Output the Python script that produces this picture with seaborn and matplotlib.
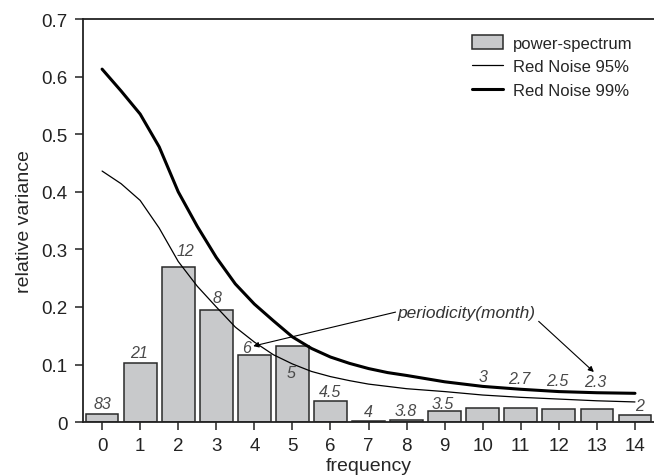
import numpy as np
import pandas as pd
import matplotlib
matplotlib.use("Agg")
import matplotlib.pyplot as plt
from matplotlib.patches import Patch
from matplotlib.lines import Line2D
import seaborn as sns

sns.set_style("ticks")
plt.rcParams['font.family'] = ['Liberation Sans', 'DejaVu Sans']

freq = list(range(15))
power = [0.014, 0.102, 0.269, 0.194, 0.116, 0.132, 0.036, 0.002, 0.003,
         0.019, 0.025, 0.025, 0.023, 0.022, 0.012]

curve_x = [0, 0.5, 1, 1.5, 2, 2.5, 3, 3.5, 4, 4.5, 5, 5.5, 6, 6.5, 7, 7.5, 8,
           9, 10, 11, 12, 13, 14]
red95 = [0.436, 0.414, 0.385, 0.337, 0.279, 0.236, 0.200, 0.165, 0.139, 0.117,
         0.101, 0.088, 0.079, 0.072, 0.066, 0.062, 0.058,
         0.053, 0.047, 0.043, 0.040, 0.037, 0.035]
red99 = [0.613, 0.575, 0.535, 0.478, 0.400, 0.340, 0.286, 0.240, 0.205, 0.176,
         0.148, 0.128, 0.113, 0.102, 0.093, 0.086, 0.081,
         0.070, 0.062, 0.057, 0.053, 0.051, 0.050]

period_labels = ["83", "21", "12", "8", "6", "5", "4.5", "4", "3.8", "3.5",
                 "3", "2.7", "2.5", "2.3", "2"]
label_x = [0.0, 0.97, 2.18, 3.03, 3.79, 4.97, 6.0, 7.0, 7.97, 8.95,
           10.0, 10.97, 11.97, 12.95, 14.13]
label_y = [0.033, 0.121, 0.298, 0.217, 0.130, 0.087, 0.054, 0.019, 0.021, 0.033,
           0.080, 0.075, 0.073, 0.070, 0.028]

bars_df = pd.DataFrame({"frequency": freq, "power": power})
curves_df = pd.DataFrame({"frequency": curve_x, "red95": red95, "red99": red99})

fig = plt.figure(figsize=(6.54, 4.77), dpi=100)
ax = fig.add_axes([0.127, 0.113, 0.873, 0.845])

sns.barplot(data=bars_df, x="frequency", y="power", ax=ax, width=0.86,
            color="#c8c9cb", edgecolor="#2a2a2a", linewidth=1.1, saturation=1)
sns.lineplot(data=curves_df, x="frequency", y="red95", ax=ax, color="black",
             linewidth=0.9)
sns.lineplot(data=curves_df, x="frequency", y="red99", ax=ax, color="black",
             linewidth=2.2)

for t, lx, ly in zip(period_labels, label_x, label_y):
    ax.text(lx, ly, t, ha="center", va="center", fontsize=11.5, style="italic",
            color="#4a4a4a")

ax.text(7.75, 0.190, "periodicity(month)", ha="left", va="center", fontsize=12.5,
        style="italic", color="#333333")
ax.annotate("", xy=(3.97, 0.132), xytext=(7.71, 0.191),
            arrowprops=dict(arrowstyle="-|>", color="black", lw=0.8,
                            mutation_scale=8, shrinkA=0, shrinkB=0))
ax.annotate("", xy=(12.92, 0.087), xytext=(11.47, 0.175),
            arrowprops=dict(arrowstyle="-|>", color="black", lw=0.8,
                            mutation_scale=8, shrinkA=0, shrinkB=0))

ax.set_xlim(-0.5, 14.5)
ax.set_ylim(0, 0.7)
ax.set_yticks([0, 0.1, 0.2, 0.3, 0.4, 0.5, 0.6, 0.7])
ax.set_yticklabels(["0", "0.1", "0.2", "0.3", "0.4", "0.5", "0.6", "0.7"])
ax.set_xlabel("frequency", fontsize=14, labelpad=2)
ax.set_ylabel("relative variance", fontsize=14, labelpad=6)
ax.tick_params(axis="both", labelsize=13.5, length=6, width=1.1, colors="#222222",
               direction="out", pad=5)
for s in ["left", "bottom", "top"]:
    ax.spines[s].set_linewidth(1.3)
    ax.spines[s].set_color("#222222")
ax.spines["right"].set_visible(False)

handles = [Patch(facecolor="#c8c9cb", edgecolor="#2a2a2a", linewidth=1.1),
           Line2D([], [], color="black", linewidth=0.9),
           Line2D([], [], color="black", linewidth=2.2)]
ax.legend(handles, ["power-spectrum", "Red Noise 95%", "Red Noise 99%"],
          loc="upper left", bbox_to_anchor=(0.669, 0.977), frameon=False,
          fontsize=12, handlelength=1.86, handleheight=0.9, labelspacing=0.48,
          handletextpad=0.6, borderaxespad=0)

fig.savefig("out.png", dpi=100)
